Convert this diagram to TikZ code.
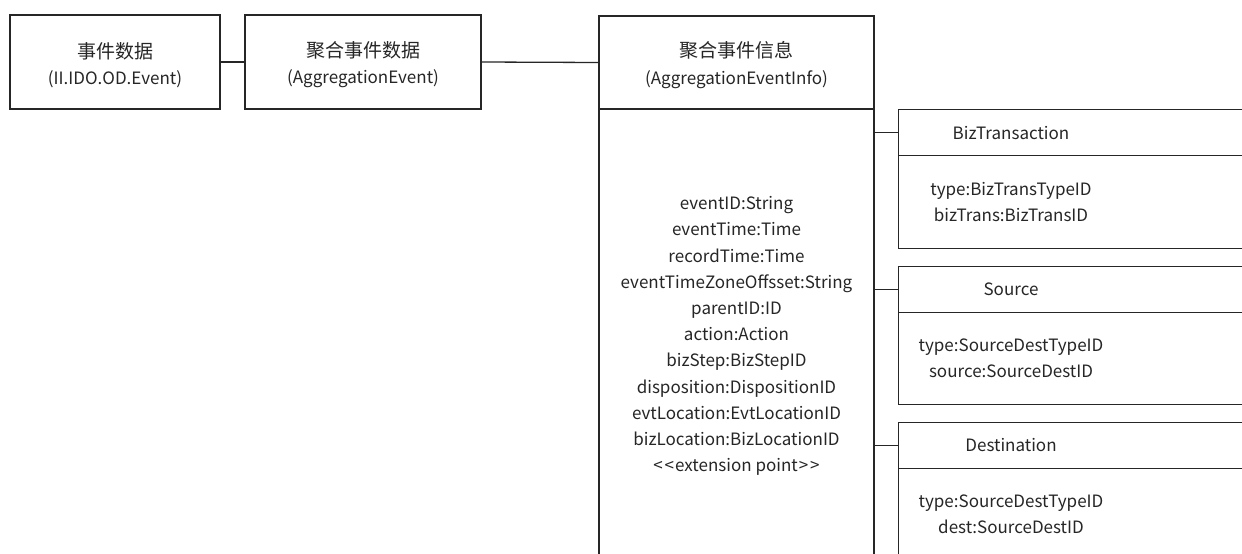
\documentclass[tikz,border=0pt]{standalone}
\usepackage{fontspec}
\setmainfont{Noto Sans CJK SC}
\newcommand{\zh}[1]{{\fontsize{19}{26.2}\selectfont #1}}
\begin{document}
\begin{tikzpicture}[x=1pt,y=-1pt,
  box/.style={draw=black!85,line width=1.3pt,rectangle,inner sep=0pt},
  txt/.style={text=black!85,font=\fontsize{17}{26.2}\selectfont,align=center,inner sep=0pt},
  link/.style={draw=black!85,line width=1.3pt}]
\clip (0,0) rectangle (1242,554);
\fill[white] (0,0) rectangle (1242,554);
% left boxes
\node[box,minimum width=210pt,minimum height=94pt] (b1) at (115,62) {};
\node[txt] (b1t) at (115,65) {\zh{事件数据}\\(II.IDO.OD.Event)};
\node[box,minimum width=236pt,minimum height=94pt] (b2) at (363,62) {};
\node[txt] (b2t) at (363,65) {\zh{聚合事件数据}\\(AggregationEvent)};
% main class
\node[box,minimum width=275pt,minimum height=93pt] (h3) at (736.5,62.5) {};
\node[txt] (h3t) at (736.5,65) {\zh{聚合事件信息}\\(AggregationEventInfo)};
\node[box,minimum width=275pt,minimum height=470pt,anchor=north] (b3) at (736.5,109) {};
\node[txt] (b3t) at (736.5,336) {eventID:String\\eventTime:Time\\recordTime:Time\\eventTimeZoneOffsset:String\\parentID:ID\\action:Action\\bizStep:BizStepID\\disposition:DispositionID\\evtLocation:EvtLocationID\\bizLocation:BizLocationID\\<\kern2pt<\kern1pt extension point\kern1pt>\kern2pt>};
% side classes
\node[box,minimum width=370pt,minimum height=46pt,anchor=north west] (bth) at (898,109) {};
\node[box,minimum width=370pt,minimum height=93pt,anchor=north west] (btb) at (898,155) {};
\node[txt] (btht) at (1011,133) {BizTransaction};
\node[txt] (btbt) at (1011,202) {type:BizTransTypeID\\bizTrans:BizTransID};
\node[box,minimum width=370pt,minimum height=46pt,anchor=north west] (srh) at (898,266) {};
\node[box,minimum width=370pt,minimum height=92pt,anchor=north west] (srb) at (898,312) {};
\node[txt] (srht) at (1011,289) {Source};
\node[txt] (srbt) at (1011,358) {type:SourceDestTypeID\\source:SourceDestID};
\node[box,minimum width=370pt,minimum height=46pt,anchor=north west] (dsh) at (898,422) {};
\node[box,minimum width=370pt,minimum height=92pt,anchor=north west] (dsb) at (898,468) {};
\node[txt] (dsht) at (1011,445) {Destination};
\node[txt] (dsbt) at (1011,514) {type:SourceDestTypeID\\dest:SourceDestID};
% connectors
\draw[link] (b1.east) -- (b2.west);
\draw[link] (b2.east) -- (h3.west);
\draw[link] (b3.east |- bth.west) -- (bth.west);
\draw[link] (b3.east |- srh.west) -- (srh.west);
\draw[link] (b3.east |- dsh.west) -- (dsh.west);
\end{tikzpicture}
\end{document}
